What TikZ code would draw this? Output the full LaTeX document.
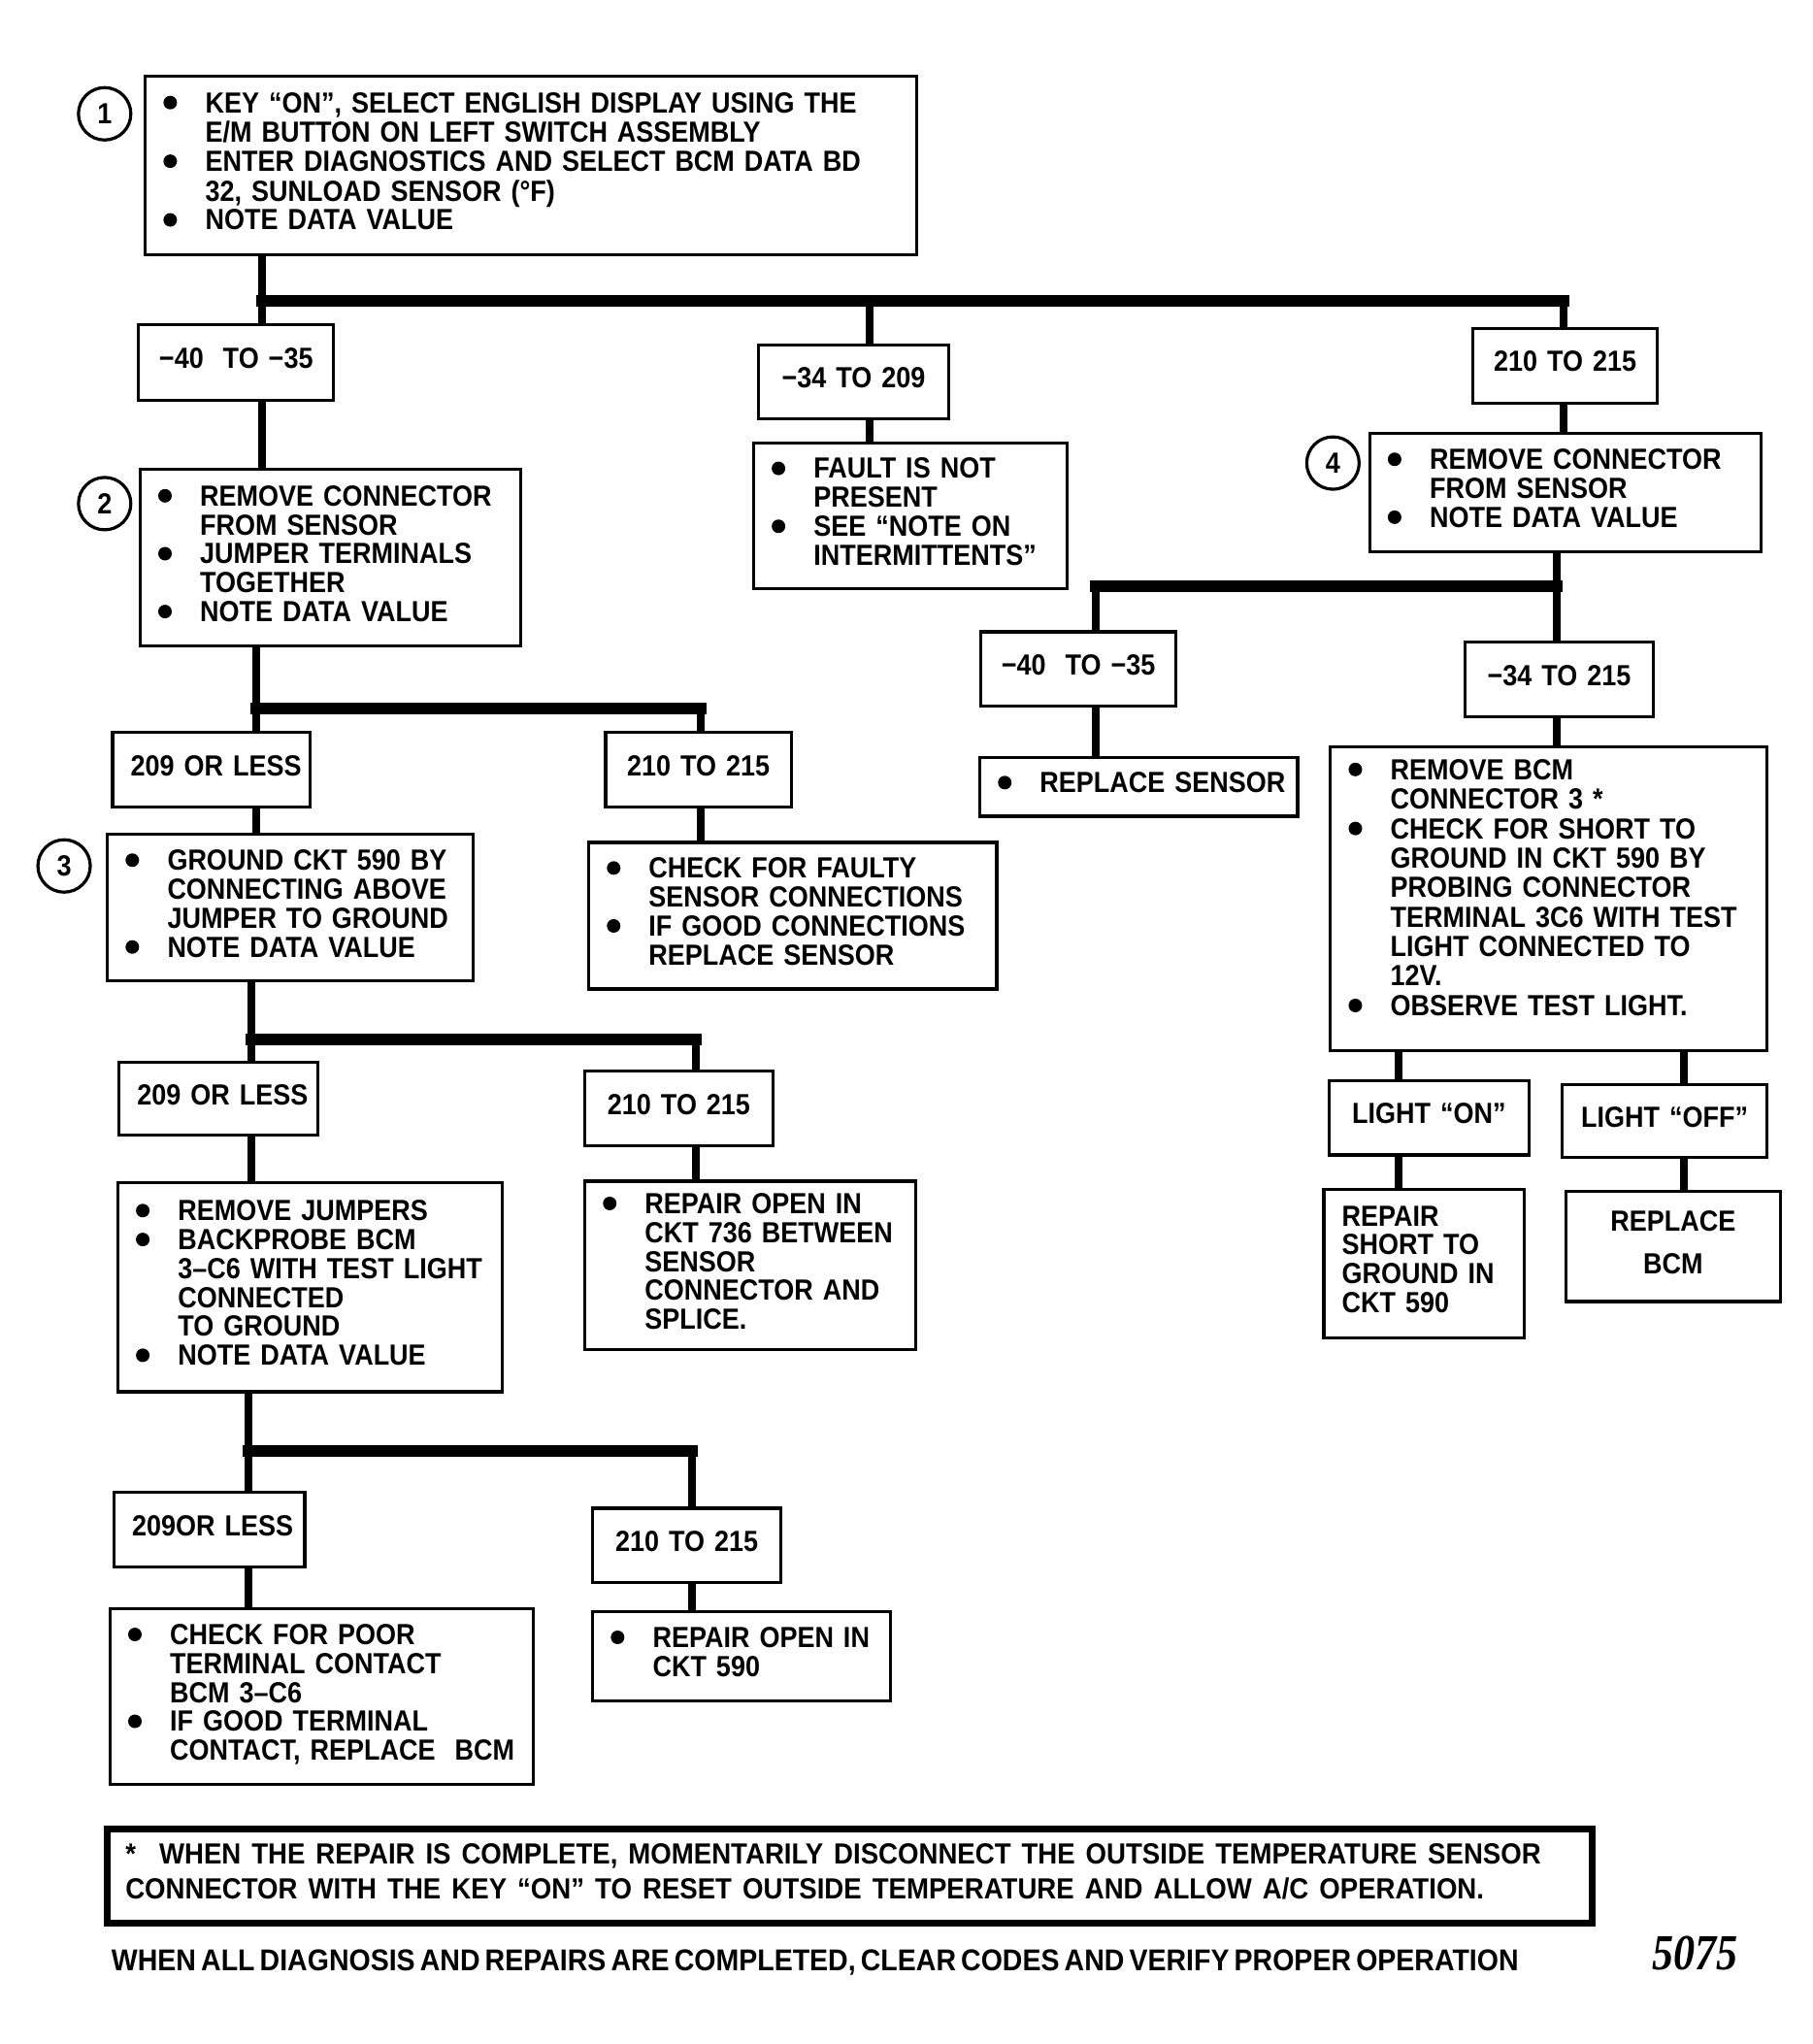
\documentclass[tikz,border=0pt]{standalone}
\usepackage{fontspec}
\setmainfont{Liberation Sans}[FakeStretch=0.9]
\newfontfamily\wfont{Liberation Sans}[FakeStretch=0.92]
\newfontfamily\numfont{Liberation Serif}[FakeStretch=0.85]
\newcommand\fs{\bfseries\fontsize{15}{14.8}\selectfont}
\newcommand\bl{\makebox[21.6pt][l]{\tikz[baseline=0pt]\fill (3.4pt,5.2pt) circle (3.5pt);}}
\newcommand\ci{\hspace*{21.6pt}}
\newcommand\sline[2]{\makebox[#1][s]{\spaceskip=0.25em plus 1fil minus 0.1em\relax #2}}
\tikzset{
  box/.style={draw, line width=1.6pt, inner xsep=9.4pt, inner ysep=1pt, align=left, font=\fs},
  lab/.style={align=center},
  circ/.style={draw, circle, line width=1.6pt, minimum size=27pt, inner sep=0pt, font=\fs},
  vl/.style={line width=4pt},
  bus/.style={line width=6pt, line cap=rect}
}
% #1 options, #2 name, #3 x1, #4 y1, #5 x2, #6 y2, #7 content
\newcommand\bx[7][]{%
  \pgfmathsetmacro\bxw{(#5-#3)*0.674}%
  \pgfmathsetmacro\bxh{(#6-#4)*0.674}%
  \pgfmathsetmacro\bxt{\bxw-18.8}%
  \node[box,#1,minimum width=\bxw pt,minimum height=\bxh pt,text width=\bxt pt]
    (#2) at ({(#3+#5)/2},{(#4+#6)/2}) {\begin{tabular}{@{}l@{}}#7\end{tabular}};}
\begin{document}
\begin{tikzpicture}[x=0.674pt,y=-0.674pt]
\useasboundingbox (0,0) rectangle (1386,1562.6);
% ---- top
\node[circ] (c1) at (80,87) {1};
\bx{b1}{111}{58}{701}{195}{\bl KEY “ON”, SELECT ENGLISH DISPLAY USING THE\\
 \ci E/M BUTTON ON LEFT SWITCH ASSEMBLY\\
 \bl ENTER DIAGNOSTICS AND SELECT BCM DATA BD\\
 \ci 32, SUNLOAD SENSOR (°F)\\
 \bl NOTE DATA VALUE}
\bx[lab]{l1a}{106}{248}{255}{306}{−40\ \ TO −35}
\bx[lab]{l1b}{580}{264}{725}{320}{−34 TO 209}
\bx[lab]{l1c}{1126}{251}{1267}{308}{210 TO 215}
\node[circ] (c2) at (80,385) {2};
\bx{b2}{107}{359}{398}{494}{\bl REMOVE CONNECTOR\\
 \ci FROM SENSOR\\
 \bl JUMPER TERMINALS\\
 \ci TOGETHER\\
 \bl NOTE DATA VALUE}
\bx{b3m}{576}{339}{816}{450}{\bl FAULT IS NOT\\
 \ci PRESENT\\
 \bl SEE “NOTE ON\\
 \ci INTERMITTENTS”}
\node[circ] (c4) at (1019,354) {4};
\bx{b4}{1047}{331}{1346}{422}{\bl REMOVE CONNECTOR\\
 \ci FROM SENSOR\\
 \bl NOTE DATA VALUE}
% ---- right branch
\bx[lab]{l4a}{750}{483}{899}{540}{−40\ \ TO −35}
\bx[lab]{l4b}{1120}{491}{1264}{548}{−34 TO 215}
\bx{b5}{749}{579}{992}{624}{\bl REPLACE SENSOR}
\bx[font=\bfseries\fontsize{15}{15.2}\selectfont]{b6}{1017}{571}{1351}{803}{\bl REMOVE BCM\\
 \ci CONNECTOR 3 *\\
 \bl CHECK FOR SHORT TO\\
 \ci GROUND IN CKT 590 BY\\
 \ci PROBING CONNECTOR\\
 \ci TERMINAL 3C6 WITH TEST\\
 \ci LIGHT CONNECTED TO\\
 \ci 12V.\\
 \bl OBSERVE TEST LIGHT.\\[-8pt]\mbox{}}
\bx[lab]{l6a}{1016}{826}{1169}{883}{LIGHT “ON”}
\bx[lab]{l6b}{1194}{829}{1351}{885}{LIGHT “OFF”}
\bx{b7}{1012}{909}{1165}{1023}{REPAIR\\ SHORT TO\\ GROUND IN\\ CKT 590}
\bx[lab]{b8}{1197}{911}{1361}{995}{\begin{tabular}{@{}c@{}}REPLACE\\[7pt] BCM\end{tabular}}
% ---- left branch
\bx[lab]{l2a}{86}{560}{237}{617}{209 OR LESS}
\bx[lab]{l2b}{463}{560}{605}{617}{210 TO 215}
\node[circ] (c3) at (49,662) {3};
\bx{b9}{82}{638}{362}{750}{\bl GROUND CKT 590 BY\\
 \ci CONNECTING ABOVE\\
 \ci JUMPER TO GROUND\\
 \bl NOTE DATA VALUE}
\bx{b10}{450}{644}{762}{756}{\bl CHECK FOR FAULTY\\
 \ci SENSOR CONNECTIONS\\
 \bl IF GOOD CONNECTIONS\\
 \ci REPLACE SENSOR}
\bx[lab]{l3a}{91}{812}{243}{868}{209 OR LESS}
\bx[lab]{l3b}{447}{819}{591}{876}{210 TO 215}
\bx{b11}{90}{904}{384}{1064}{\bl REMOVE JUMPERS\\
 \bl BACKPROBE BCM\\
 \ci 3–C6 WITH TEST LIGHT\\
 \ci CONNECTED\\
 \ci TO GROUND\\
 \bl NOTE DATA VALUE}
\bx{b12}{447}{903}{700}{1032}{\bl REPAIR OPEN IN\\
 \ci CKT 736 BETWEEN\\
 \ci SENSOR\\
 \ci CONNECTOR AND\\
 \ci SPLICE.}
\bx[lab]{l5a}{87}{1141}{233}{1198}{209OR LESS}
\bx[lab]{l5b}{453}{1153}{597}{1210}{210 TO 215}
\bx{b13}{84}{1230}{408}{1364}{\bl CHECK FOR POOR\\
 \ci TERMINAL CONTACT\\
 \ci BCM 3–C6\\
 \bl IF GOOD TERMINAL\\
 \ci CONTACT, REPLACE\ \ BCM}
\bx{b14}{453}{1232}{681}{1300}{\bl REPAIR OPEN IN\\
 \ci CKT 590}
% ---- footnote
\bx[line width=3.5pt, font=\wfont\fs]{fn}{82}{1398}{1217}{1470}{%
 *\kern12pt\sline{712pt}{WHEN THE REPAIR IS COMPLETE, MOMENTARILY DISCONNECT THE OUTSIDE TEMPERATURE SENSOR}\\[2.5pt]
 \sline{700pt}{CONNECTOR WITH THE KEY “ON” TO RESET OUTSIDE TEMPERATURE AND ALLOW A/C OPERATION.}}
\node[anchor=west, inner sep=0pt, font=\wfont\bfseries\fontsize{15.5}{15.5}\selectfont] (note) at (85,1500)
 {\sline{725pt}{WHEN ALL DIAGNOSIS AND REPAIRS ARE COMPLETED, CLEAR CODES AND VERIFY PROPER OPERATION}};
\node[inner sep=0pt, font=\numfont\bfseries\itshape\fontsize{26}{26}\selectfont] (num) at (1296,1493) {5075};
% ---- connectors: top
\coordinate (j1) at (200,230);
\coordinate (j1m) at (665,230);
\coordinate (j1r) at (1195,230);
\draw[vl] (b1.south -| j1) -- (j1);
\draw[bus] (j1) -- (j1r);
\draw[vl] (j1) -- (j1 |- l1a.north);
\draw[vl] (j1m) -- (j1m |- l1b.north);
\draw[vl] (j1r) -- (j1r |- l1c.north);
\draw[vl] (l1a.south -| j1) -- (j1 |- b2.north);
\draw[vl] (l1b.south -| j1m) -- (j1m |- b3m.north);
\draw[vl] (l1c.south -| j1r) -- (j1r |- b4.north);
% right branch
\coordinate (j4) at (1190,448);
\coordinate (j4l) at (838,448);
\draw[vl] (b4.south -| j4) -- (j4);
\draw[bus] (j4) -- (j4l);
\draw[vl] (j4l) -- (j4l |- l4a.north);
\draw[vl] (j4) -- (j4 |- l4b.north);
\draw[vl] (l4a.south -| j4l) -- (j4l |- b5.north);
\draw[vl] (l4b.south -| j4) -- (j4 |- b6.north);
\coordinate (x6a) at (1069,850);
\coordinate (x6b) at (1287,850);
\draw[vl] (b6.south -| x6a) -- (x6a |- l6a.north);
\draw[vl] (b6.south -| x6b) -- (x6b |- l6b.north);
\draw[vl] (l6a.south -| x6a) -- (x6a |- b7.north);
\draw[vl] (l6b.south -| x6b) -- (x6b |- b8.north);
% left branch
\coordinate (j2) at (196,542);
\coordinate (j2r) at (536,542);
\draw[vl] (b2.south -| j2) -- (j2);
\draw[bus] (j2) -- (j2r);
\draw[vl] (j2) -- (j2 |- l2a.north);
\draw[vl] (j2r) -- (j2r |- l2b.north);
\draw[vl] (l2a.south -| j2) -- (j2 |- b9.north);
\draw[vl] (l2b.south -| j2r) -- (j2r |- b10.north);
\coordinate (j3) at (192,795);
\coordinate (j3r) at (532,795);
\draw[vl] (b9.south -| j3) -- (j3);
\draw[bus] (j3) -- (j3r);
\draw[vl] (j3) -- (j3 |- l3a.north);
\draw[vl] (j3r) -- (j3r |- l3b.north);
\draw[vl] (l3a.south -| j3) -- (j3 |- b11.north);
\draw[vl] (l3b.south -| j3r) -- (j3r |- b12.north);
\coordinate (j5) at (190,1109);
\coordinate (j5r) at (529,1109);
\draw[vl] (b11.south -| j5) -- (j5);
\draw[bus] (j5) -- (j5r);
\draw[vl] (j5) -- (j5 |- l5a.north);
\draw[vl] (j5r) -- (j5r |- l5b.north);
\draw[vl] (l5a.south -| j5) -- (j5 |- b13.north);
\draw[vl] (l5b.south -| j5r) -- (j5r |- b14.north);
\end{tikzpicture}
\end{document}
